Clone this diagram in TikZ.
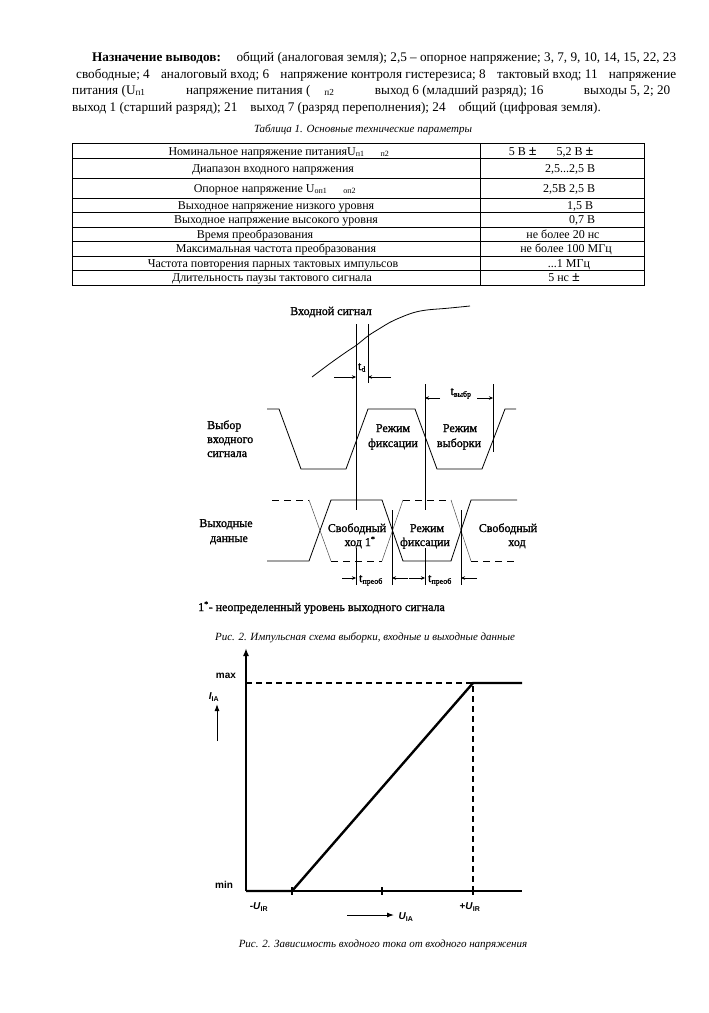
\documentclass[tikz,border=0pt]{standalone}
\usepackage{fontspec}
\setmainfont{Liberation Serif}
\setsansfont{Liberation Sans}
\newfontfamily\diafont[FakeBold=1.2]{Liberation Serif}
\usetikzlibrary{arrows.meta}
\tikzset{
 para/.style={anchor=base west, inner sep=0pt, font=\fontsize{13.2}{16}\selectfont},
 capt/.style={anchor=base, inner sep=0pt, font=\fontsize{11}{13}\selectfont\itshape},
 tabtxt/.style={anchor=base, inner sep=0pt, font=\fontsize{12}{14}\selectfont},
 gridln/.style={line width=0.8pt},
 lbl/.style={anchor=base, inner sep=0pt, font=\diafont\fontsize{12}{14}\selectfont},
 lblw/.style={lbl, anchor=base west},
 sig/.style={line width=0.8pt},
 sigdash/.style={line width=0.8pt, dash pattern=on 7pt off 5pt},
 sigthin/.style={line width=0.5pt, black!70},
 vline/.style={line width=0.8pt},
 darr/.style={line width=0.6pt, -{Stealth[length=4pt,width=3.5pt]}},
 axisline/.style={line width=1.6pt},
 thickln/.style={line width=2.4pt},
 glbl/.style={inner sep=0pt, font=\sffamily\bfseries\fontsize{10}{12}\selectfont},
 garr/.style={line width=1pt, -{Latex[length=7pt,width=5pt]}},
}
\newcommand\pmsign{\textbf{\fontsize{14}{14}\selectfont ±}}
\begin{document}
\begin{tikzpicture}[x=1pt,y=-1pt]
\useasboundingbox[fill=white] (0,0) rectangle (709,1013);

% ---------- paragraph ----------
\node[para] (p1) at (92,61) {\hbox to 584pt{\textbf{Назначение выводов:}\hskip 10pt plus 1fil общий (аналоговая земля); 2,5 – опорное напряжение; 3, 7, 9, 10, 14, 15, 22, 23}};
\node[para] (p2) at (76,78) {\hbox to 600pt{свободные; 4\hskip 6pt plus 1fil аналоговый вход; 6\hskip 6pt plus 1fil напряжение контроля гистерезиса; 8\hskip 6pt plus 1fil тактовый вход; 11\hskip 6pt plus 1fil напряжение}};
\node[para] (p3) at (72,94) {\hbox to 598pt{питания (U\textsubscript{п1}\hskip 10pt plus 1fil напряжение питания (\hskip 14pt\textsubscript{п2}\hskip 10pt plus 1fil выход 6 (младший разряд); 16\hskip 10pt plus 1fil выходы 5, 2; 20}};
\node[para] (p4) at (72,111) {выход 1 (старший разряд); 21\hspace{13pt}выход 7 (разряд переполнения); 24\hspace{13pt}общий (цифровая земля).};

% ---------- table ----------
\node[capt] (tcap) at (363,132) {Таблица 1. Основные технические параметры};
\draw[gridln] (72,143) rectangle (644,285);
\draw[gridln] (480,143) -- (480,285);
\foreach \yy in {158,178,198,212,227,241,256,270} \draw[gridln] (72,\yy) -- (644,\yy);

\node[tabtxt] (r1a) at (279,155) {Номинальное напряжение питанияU\textsubscript{п1}\hspace{16pt}\textsubscript{п2}};
\node[tabtxt] (r2a) at (273,172) {Диапазон входного напряжения};
\node[tabtxt] (r3a) at (275,192) {Опорное напряжение U\textsubscript{оп1}\hspace{16pt}\textsubscript{оп2}};
\node[tabtxt] (r4a) at (276,209) {Выходное напряжение низкого уровня};
\node[tabtxt] (r5a) at (276,223.5) {Выходное напряжение высокого уровня};
\node[tabtxt] (r6a) at (255,238) {Время преобразования};
\node[tabtxt] (r7a) at (276,252.5) {Максимальная частота преобразования};
\node[tabtxt] (r8a) at (273,267) {Частота повторения парных тактовых импульсов};
\node[tabtxt] (r9a) at (272,281.5) {Длительность паузы тактового сигнала};

\node[tabtxt] (r1b) at (551,155) {5 В \pmsign\hspace{20pt}5,2 В \pmsign};
\node[tabtxt] (r2b) at (570,172) {2,5...2,5 В};
\node[tabtxt] (r3b) at (569,192) {2,5В 2,5 В};
\node[tabtxt] (r4b) at (580,209) {1,5 В};
\node[tabtxt] (r5b) at (582,223.5) {0,7 В};
\node[tabtxt] (r6b) at (563,238) {не более 20 нс};
\node[tabtxt] (r7b) at (566,252.5) {не более 100 МГц};
\node[tabtxt] (r8b) at (569,267) {...1 МГц};
\node[tabtxt] (r9b) at (564,281.5) {5 нс \pmsign};

% ---------- timing diagram ----------
\node[lbl] (insig) at (331,315) {Входной сигнал};
\draw[sig] plot[smooth, tension=0.6] coordinates {(312,377) (330,363.5) (346.7,351.7) (356.7,345) (368.3,335.7) (380,328.3) (390,322.3) (400,317.7) (413.3,312.7) (426.7,310) (446.7,308.3) (470,306)};

% sample select waveform
\draw[sig] (267,409) -- (279,409) -- (301,469) -- (346,469) -- (368,409) -- (415,409) -- (437,469) -- (482,469) -- (505,409) -- (516,409);

% output data waveform
\draw[sig] (267,561) -- (309,561) -- (331,500) -- (382,500) -- (403,561) -- (451,561) -- (471,500) -- (517,500);
\draw[sigdash] (272,500) -- (309,500);
\draw[sigthin] (309,500) -- (331,561);
\draw[sigdash] (331,561) -- (382,561);
\draw[sigthin] (382,561) -- (403,500);
\draw[sigdash] (403,500) -- (451,500);
\draw[sigthin] (451,500) -- (471,561);
\draw[sigdash] (471,561) -- (517,561);

% vertical markers
\draw[vline] (356,324) -- (356,510);
\draw[vline] (356,548) -- (356,585);
\draw[vline] (368,324) -- (368,383);
\draw[vline] (425,384) -- (425,510);
\draw[vline] (425,548) -- (425,585);
\draw[vline] (493,384) -- (493,452);
\draw[vline] (392,510) -- (392,585);
\draw[vline] (461,510) -- (461,585);

% time arrows
\draw[darr] (334,377) -- (356,377);
\draw[darr] (391,377) -- (368,377);
\node[lbl] (td) at (362,370) {t\textsubscript{d}};
\draw[darr] (440,398) -- (425,398);
\draw[darr] (477,398) -- (493,398);
\node[lbl] (tsel) at (461,395) {t\textsubscript{выбр}};
\draw[darr] (342,578) -- (356,578);
\draw[darr] (408,578) -- (392,578);
\draw[darr] (409,578) -- (425,578);
\draw[darr] (477,578) -- (461,578);
\node[lbl] (tc1) at (371,582) {t\textsubscript{преоб}};
\node[lbl] (tc2) at (440,582) {t\textsubscript{преоб}};

% labels
\node[lblw] (s1) at (207,429) {Выбор};
\node[lblw] (s2) at (207,443) {входного};
\node[lblw] (s3) at (207,457) {сигнала};
\node[lbl] (h1) at (393,432) {Режим};
\node[lbl] (h2) at (393,447) {фиксации};
\node[lbl] (v1) at (460,432) {Режим};
\node[lbl] (v2) at (459,447) {выборки};
\node[lbl] (o1) at (226,527) {Выходные};
\node[lbl] (o2) at (229,542) {данные};
\node[lbl] (f1) at (357,532) {Свободный};
\node[lbl] (f2) at (360,546) {ход 1\textsuperscript{*}};
\node[lbl] (m1) at (427,532) {Режим};
\node[lbl] (m2) at (425,546) {фиксации};
\node[lbl] (g1) at (508,532) {Свободный};
\node[lbl] (g2) at (517,546) {ход};
\node[lblw] (note) at (198,611) {1\textsuperscript{*}- неопределенный уровень выходного сигнала};
\node[capt] (cap2) at (365,640) {Рис. 2. Импульсная схема выборки, входные и выходные данные};

% ---------- graph ----------
\draw[axisline, -{Latex[length=8pt,width=6pt]}] (246,891) -- (246,648);
\draw[axisline] (246,891) -- (522,891);
\draw[line width=1.2pt, dash pattern=on 6pt off 4pt] (246,683) -- (473,683) -- (473,891);
\draw[thickln] (246,891) -- (292,891) -- (473,683) -- (522,683);
\foreach \xx in {292,382,473} \draw[line width=1.2pt] (\xx,887) -- (\xx,895);
\node[glbl] (gmax) at (226,676) {max};
\node[glbl] (gmin) at (224,885) {min};
\node[glbl] (gi) at (214,697) {\textit{I}\textsubscript{IA}};
\draw[garr] (217,741) -- (217,704);
\node[glbl] (gul) at (259,907) {-\textit{U}\textsubscript{IR}};
\node[glbl] (gur) at (470,907) {+\textit{U}\textsubscript{IR}};
\draw[garr] (347,915) -- (394,915);
\node[glbl] (gua) at (406,917) {\textit{U}\textsubscript{IA}};
\node[capt] (cap3) at (383,947) {Рис. 2. Зависимость входного тока от входного напряжения};
\end{tikzpicture}
\end{document}
